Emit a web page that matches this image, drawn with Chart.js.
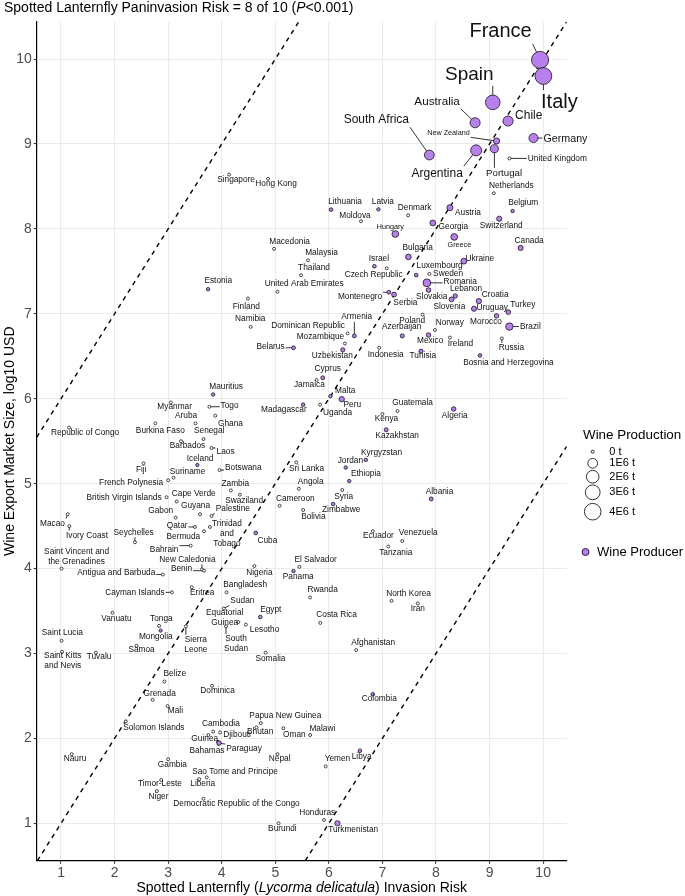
<!DOCTYPE html>
<html><head><meta charset="utf-8">
<script src="https://cdn.jsdelivr.net/npm/chart.js@4.4.1/dist/chart.umd.min.js"></script>
<style>html,body{margin:0;padding:0;background:#fff}#wrap{position:relative;width:685px;height:896px}canvas{display:block}</style>
</head><body><div id="wrap"><canvas id="c" width="685" height="896" style="width:685px;height:896px"></canvas></div>
<script>
// ---------------- DATA ----------------
const countries = ["France","Italy","Spain","Australia","Chile","New Zealand","Portugal","Argentina","South Africa","Germany",
"United Kingdom","Netherlands","Belgium","Denmark","Austria","Georgia","Switzerland","Hungary","Greece","Singapore",
"Hong Kong","Lithuania","Latvia","Moldova","Macedonia","Malaysia","Thailand","United Arab Emirates","Estonia","Finland",
"Israel","Czech Republic","Montenegro","Serbia","Namibia","Dominican Republic","Armenia","Mozambique","Uzbekistan","Belarus",
"Cyprus","Jamaica","Malta","Peru","Madagascar","Uganda","Mauritius","Togo","Ghana","Indonesia",
"Kenya","Kazakhstan","Canada","Bulgaria","Ukraine","Luxembourg","Sweden","Romania","Slovakia","Lebanon",
"Slovenia","Croatia","Uruguay","Turkey","Morocco","Poland","Norway","Azerbaijan","Mexico","Brazil",
"Ireland","Russia","Tunisia","Bosnia and Herzegovina","Guatemala","Algeria","Republic of Congo","Myanmar","Burkina Faso","Aruba",
"Senegal","Barbados","Laos","Iceland","Fiji","Suriname","French Polynesia","British Virgin Islands","Cape Verde","Gabon",
"Guyana","Palestine","Botswana","Zambia","Swaziland","Macao","Ivory Coast","Seychelles","Qatar","Bermuda",
"Trinidad\nand\nTobago","Bahrain","Saint Vincent and\nthe Grenadines","Antigua and Barbuda","New Caledonia","Benin","Cayman Islands","Eritrea","Vanuatu","Tonga",
"Mongolia","Sierra\nLeone","Saint Lucia","Samoa","Saint Kitts\nand Nevis","Tuvalu","Sri Lanka","Angola","Cameroon","Bolivia",
"Cuba","Kyrgyzstan","Jordan","Ethiopia","Syria","Zimbabwe","Ecuador","Venezuela","Tanzania","Albania",
"North Korea","Iran","El Salvador","Panama","Nigeria","Bangladesh","Sudan","Equatorial\nGuinea","Lesotho","South\nSudan",
"Egypt","Rwanda","Costa Rica","Afghanistan","Somalia","Belize","Grenada","Mali","Solomon Islands","Dominica",
"Nauru","Gambia","Timor-Leste","Niger","Liberia","Sao Tome and Principe","Democratic Republic of the Congo","Guinea","Bahamas","Cambodia",
"Djibouti","Paraguay","Papua New Guinea","Bhutan","Oman","Malawi","Nepal","Yemen","Libya","Colombia",
"Honduras","Turkmenistan","Burundi"];

const invasionRisk = [9.943,10.005,9.06,8.73,9.345,9.13,9.09,8.75,7.876,9.82,
9.37,9.08,9.43,7.48,8.26,7.94,9.18,7.24,8.34,4.137,
4.865,6.04,6.925,6.60,4.977,5.61,5.48,5.04,3.745,4.49,
6.85,7.08,7.12,7.217,4.54,6.35,6.476,6.30,6.26,5.34,
5.886,5.77,6.03,6.24,5.52,5.836,3.84,3.77,3.88,6.94,
7.0,7.07,9.58,7.485,8.52,7.63,7.877,7.83,7.86,8.36,
8.29,8.80,8.71,9.35,9.13,7.75,7.98,7.37,7.86,9.37,
8.26,9.23,7.72,8.82,7.28,8.33,1.15,3.05,2.76,3.51,
3.66,3.24,3.81,3.545,2.54,3.10,3.0,2.97,3.16,3.14,
3.595,3.81,3.96,4.17,4.34,1.125,1.155,2.38,3.50,3.67,
3.78,3.42,1.01,2.90,3.63,3.67,3.07,3.44,1.96,2.83,
2.86,3.33,1.01,2.41,1.02,1.65,5.39,5.44,5.08,5.52,
4.635,6.69,6.315,6.38,6.25,6.08,6.82,7.37,7.11,7.91,
7.17,7.66,5.45,5.34,4.61,4.09,4.04,4.31,4.45,4.08,
4.72,5.65,5.84,6.51,4.82,2.93,2.71,2.99,2.21,3.82,
1.20,3.00,2.87,2.79,3.58,3.72,3.66,3.75,3.93,3.84,
3.97,3.95,4.73,4.65,5.15,5.65,5.04,5.94,6.58,6.82,
5.91,6.16,5.06];

const exportSize = [9.99,9.80,9.49,9.25,9.27,9.035,8.945,8.925,8.87,9.07,
8.83,8.42,8.21,8.16,8.25,8.07,8.12,7.94,7.906,8.64,
8.59,8.227,8.23,8.09,7.765,7.63,7.455,7.26,7.29,7.18,
7.56,7.536,7.254,7.227,6.847,6.77,6.74,6.65,6.576,6.60,
6.247,6.22,6.03,5.995,5.93,5.93,6.05,5.906,5.80,6.60,
5.82,5.635,7.776,7.67,7.62,7.455,7.47,7.365,7.28,7.21,
7.17,7.15,7.06,7.02,6.976,6.99,6.81,6.74,6.75,6.85,
6.72,6.71,6.56,6.51,5.855,5.88,5.66,5.956,5.71,5.71,
5.525,5.50,5.42,5.22,5.24,5.07,5.04,4.84,4.79,4.60,
4.64,4.62,5.16,4.92,4.87,4.64,4.50,4.31,4.49,4.44,
4.49,4.27,4.0,3.93,3.99,3.975,3.72,3.78,3.48,3.325,
3.27,3.32,3.15,3.09,3.02,3.01,5.25,4.94,4.74,4.69,
4.42,5.28,5.19,5.03,4.925,4.76,4.44,4.325,4.26,4.82,
3.62,3.59,4.02,3.97,4.03,3.72,3.53,3.37,3.34,3.32,
3.43,3.66,3.36,3.04,3.01,2.67,2.455,2.38,2.20,2.62,
1.815,1.755,1.51,1.38,1.52,1.54,1.29,2.04,1.96,2.08,
2.07,1.945,2.18,2.13,2.12,2.04,1.815,1.67,1.855,2.52,
1.04,1.0,1.0];

// wine production, millions of tonnes (0 = not a wine producer)
const wineProduction = [4.3,4.1,2.9,1.1,1.1,0.22,0.55,1.4,1.0,0.8,
0,0,0.005,0,0.2,0.17,0.1,0.3,0.3,0,
0,0.01,0.005,0,0,0,0,0,0.005,0,
0.01,0,0.015,0.08,0,0,0.02,0,0.03,0.015,
0.02,0,0.005,0.12,0.01,0,0.005,0,0,0,
0,0.02,0.1,0.15,0.18,0.01,0,0.5,0.06,0.04,
0.07,0.12,0.1,0.06,0.05,0,0,0.03,0.05,0.42,
0,0,0.03,0.01,0,0.05,0,0,0,0,
0,0,0,0.002,0,0,0,0,0,0,
0,0,0,0,0,0,0,0,0,0,
0,0,0,0,0,0,0,0,0,0,
0.002,0,0,0,0,0,0,0,0,0,
0.01,0.005,0.005,0.005,0,0.01,0,0,0,0.02,
0,0,0,0.005,0,0,0,0,0,0,
0.01,0,0,0,0,0,0,0,0,0,
0,0,0,0,0,0,0,0,0,0,
0,0.05,0,0,0,0,0,0,0.01,0.01,
0,0.12,0];

const xTickValues = [1,2,3,4,5,6,7,8,9,10];
const yTickValues = [1,2,3,4,5,6,7,8,9,10];
const refLineOffsets = [5, 0, -5];          // dashed lines y = x + k
const legendSizeValues = [0,1,2,3,4];       // millions of tonnes
const legendSizeLabels = ["0 t","1E6 t","2E6 t","3E6 t","4E6 t"];

// ---------------- LABEL LAYOUT (pixel offsets of label centre from its point) ----------------
const labelOffset = {
"France":[-39.5,-28],"Italy":[16,26],"Spain":[-23.5,-28],"Australia":[-38,-21],"Chile":[20.7,-5.3],
"New Zealand":[-48,-8],"Portugal":[9.7,25],"Argentina":[-39,23],"South Africa":[-53,-35],"Germany":[32,0.7],
"United Kingdom":[48,0],"Netherlands":[17.5,-7.3],"Belgium":[10.6,-8],"Denmark":[6.5,-7.4],"Austria":[18,4.6],
"Georgia":[20.6,3.4],"Switzerland":[2,6.7],"Hungary":[-5,-7],"Greece":[5.2,8.4],"Singapore":[7,5],
"Hong Kong":[8,5],"Lithuania":[14,-8],"Latvia":[4.5,-8],"Moldova":[-6,-6],"Macedonia":[15.5,-7],
"Malaysia":[13.6,-7.7],"Thailand":[13,-7.4],"United Arab Emirates":[26.7,-8],"Estonia":[10.2,-8.3],"Finland":[-1.7,8.6],
"Israel":[4.5,-8],"Czech Republic":[-13,6.3],"Montenegro":[-28.8,4.3],"Serbia":[11.3,8.3],"Namibia":[-0.4,-8.6],
"Dominican Republic":[-39.5,-7.3],"Armenia":[2.4,-19],"Mozambique":[-24.5,-6.7],"Uzbekistan":[-10.5,5.7],"Belarus":[-23,-1],
"Cyprus":[5,-9],"Jamaica":[-7.2,4.6],"Malta":[14.7,-5],"Peru":[10.6,6],"Madagascar":[-19.3,5.4],
"Uganda":[17.5,8.4],"Mauritius":[13,-7.6],"Togo":[20.2,-0.6],"Ghana":[15.2,8.3],"Indonesia":[6.5,7.4],
"Kenya":[4,5],"Kazakhstan":[11,5.7],"Canada":[8.5,-7.3],"Bulgaria":[9.2,-9],"Ukraine":[16,-2.4],
"Luxembourg":[23.5,-9],"Sweden":[18.7,0],"Romania":[33.3,-1],"Slovakia":[3.2,6.4],"Lebanon":[10.8,-7.4],
"Slovenia":[-2.2,7.7],"Croatia":[16.3,-6.4],"Uruguay":[18.2,-1.3],"Turkey":[14.5,-7.3],"Morocco":[-10.5,6],
"Poland":[-10.4,6.3],"Norway":[14.8,-7.7],"Azerbaijan":[-0.6,-8.7],"Mexico":[1.7,6],"Brazil":[21,0],
"Ireland":[10.5,6.4],"Russia":[9.6,9.3],"Tunisia":[1.8,5],"Bosnia and Herzegovina":[28.5,7.6],"Guatemala":[15.2,-8.4],
"Algeria":[1,6.7],"Republic of Congo":[16,5.3],"Myanmar":[3.8,4.3],"Burkina Faso":[5,7.7],"Aruba":[-9.4,-8],
"Senegal":[5.7,-8],"Barbados":[6.5,5],"Laos":[14,4],"Iceland":[2.7,-6.7],"Fiji":[-2.3,6.7],
"Suriname":[14,-6],"French Polynesia":[-37,2],"British Virgin Islands":[-42.5,0],"Cape Verde":[17,-7.3],"Gabon":[-15,-7.3],
"Guyana":[-4.5,-8.3],"Palestine":[21.3,-7.7],"Botswana":[23.7,-2.7],"Zambia":[4.5,-7],"Swaziland":[4.2,5.7],
"Macao":[-15.2,9.3],"Ivory Coast":[17.7,9.3],"Seychelles":[-1.3,-10],"Qatar":[-17.8,-1.3],"Bermuda":[-20.7,5],
"Trinidad\nand\nTobago":[17,6.4],"Bahrain":[-26.5,4],"Saint Vincent and\nthe Grenadines":[15,-11.6],"Antigua and Barbuda":[-46.5,-1.7],"New Caledonia":[-14.5,-10],
"Benin":[-22.5,-2],"Cayman Islands":[-37,0],"Eritrea":[10.5,5],"Vanuatu":[4,6],"Tonga":[2.3,-6.7],
"Mongolia":[-4.9,6],"Sierra\nLeone":[10,18.4],"Saint Lucia":[0.8,-7.7],"Samoa":[5,4.3],"Saint Kitts\nand Nevis":[0.7,8.7],
"Tuvalu":[3.2,4.4],"Sri Lanka":[10.3,6],"Angola":[11.8,-7.3],"Cameroon":[15.7,-7.4],"Bolivia":[10.2,6.7],
"Cuba":[11.6,7.7],"Kyrgyzstan":[15.7,-6.7],"Jordan":[4.6,-7.3],"Ethiopia":[16.7,-7.7],"Syria":[1.4,7],
"Zimbabwe":[8,6],"Ecuador":[5.6,4.3],"Venezuela":[16,-8],"Tanzania":[7.5,6],"Albania":[8.3,-7.3],
"North Korea":[17,-6.7],"Iran":[0,5.7],"El Salvador":[16.2,-7],"Panama":[4.7,6],"Nigeria":[5,6.6],
"Bangladesh":[18.6,-7.3],"Sudan":[18.5,-8],"Equatorial\nGuinea":[-13.6,-4.4],"Lesotho":[18.7,5.3],"South\nSudan":[10,17.7],
"Egypt":[10.5,-7.7],"Rwanda":[12.5,-7.3],"Costa Rica":[16.3,-8],"Afghanistan":[17,-7.4],"Somalia":[4.8,5.6],
"Belize":[10.4,-8.3],"Grenada":[7,-6.4],"Mali":[7.8,4.4],"Solomon Islands":[28,6],"Dominica":[5.5,5],
"Nauru":[3.3,4.3],"Gambia":[4.2,5],"Timor-Leste":[-1.3,3.6],"Niger":[1.6,6],"Liberia":[3.5,4.3],
"Sao Tome and Principe":[28.3,-6],"Democratic Republic of the Congo":[33,4.7],"Guinea":[-3.6,3.6],"Bahamas":[-11,9],"Cambodia":[7.7,-8],
"Djibouti":[17,2.4],"Paraguay":[25,6],"Papua New Guinea":[24.5,-7],"Bhutan":[3.6,4.4],"Oman":[11,6],
"Malawi":[12.2,-6.7],"Nepal":[2.2,4.3],"Yemen":[11.8,-7.3],"Libya":[1.7,5.6],"Colombia":[6.5,4.7],
"Honduras":[-6.8,-7.3],"Turkmenistan":[15.7,6],"Burundi":[3.9,5]
};
const labelSize = {"France":20,"Italy":20,"Spain":19,"Australia":11.7,"Chile":12,"South Africa":12,"Argentina":12,
"Germany":10.7,"Portugal":9.7,"New Zealand":7.2,"Greece":7.2,"Hungary":7.2};
const DEFAULT_LABEL_SIZE = 8.3;

// ---------------- STYLE ----------------
const PURPLE = '#B87FEF';
const FONT = '"Liberation Sans", Arial, Helvetica, sans-serif';
const X_MIN = 0.546, X_MAX = 10.44, Y_MIN = 0.56, Y_MAX = 10.44;
function radiusFor(v){ return 1.5 + 3.4*Math.sqrt(v); }

const bubbleData = countries.map((c,i)=>({x:invasionRisk[i], y:exportSize[i], r:radiusFor(wineProduction[i])}));
const bubbleFill = wineProduction.map(v => v>0 ? PURPLE : '#ffffff');

const refDatasets = refLineOffsets.map(k=>{
  const x0 = Math.max(X_MIN, Y_MIN - k), x1 = Math.min(X_MAX, Y_MAX - k);
  return {type:'line', data:[{x:x0,y:x0+k},{x:x1,y:x1+k}], borderColor:'#000', borderWidth:1.4,
          borderDash:[4.5,4.5], pointRadius:0, fill:false, order:5};
});

function labelInfo(chart){
  const xs = chart.scales.x, ys = chart.scales.y, ctx = chart.ctx;
  return countries.map((name,i)=>{
    const px = xs.getPixelForValue(invasionRisk[i]), py = ys.getPixelForValue(exportSize[i]);
    const off = labelOffset[name] || [6,5];
    const size = labelSize[name] || DEFAULT_LABEL_SIZE;
    const lines = name.split('\n');
    ctx.font = size + 'px ' + FONT;
    const w = Math.max(...lines.map(l=>ctx.measureText(l).width));
    const lh = size*1.2;
    const h = lines.length*lh;
    return {px,py,r:radiusFor(wineProduction[i]),lx:px+off[0],ly:py+off[1],lines,size,w,h,lh};
  });
}

function drawParts(ctx, parts, x, y, size, align){
  let total = 0;
  parts.forEach(p=>{ ctx.font = (p[1]?'italic ':'') + size + 'px ' + FONT; p.w = ctx.measureText(p[0]).width; total += p.w; });
  let cx = align==='center' ? x - total/2 : x;
  ctx.textAlign='left'; ctx.textBaseline='middle';
  parts.forEach(p=>{ ctx.font = (p[1]?'italic ':'') + size + 'px ' + FONT; ctx.fillText(p[0], cx, y); cx += p.w; });
}

const labelPlugin = {
  id:'countryLabels',
  beforeDatasetsDraw(chart){
    const ctx = chart.ctx;
    const info = labelInfo(chart);
    ctx.save();
    ctx.strokeStyle = '#000'; ctx.lineWidth = 0.8;
    info.forEach(L=>{
      const bx0 = L.lx - L.w/2 - 1, bx1 = L.lx + L.w/2 + 1, by0 = L.ly - L.h/2, by1 = L.ly + L.h/2;
      const nx = Math.min(Math.max(L.px,bx0),bx1), ny = Math.min(Math.max(L.py,by0),by1);
      const d = Math.hypot(nx-L.px, ny-L.py);
      if (d > L.r + 2.5){
        ctx.beginPath(); ctx.moveTo(L.px,L.py); ctx.lineTo(nx,ny); ctx.stroke();
      }
    });
    ctx.restore();
  },
  afterDatasetsDraw(chart){
    const ctx = chart.ctx;
    const info = labelInfo(chart);
    ctx.save();
    ctx.fillStyle = '#111'; ctx.textAlign='center'; ctx.textBaseline='middle';
    info.forEach(L=>{
      ctx.font = L.size + 'px ' + FONT;
      const y0 = L.ly - L.h/2 + L.lh/2;
      L.lines.forEach((t,k)=> ctx.fillText(t, L.lx, y0 + k*L.lh));
    });
    ctx.restore();
  },
  afterDraw(chart){
    const ctx = chart.ctx, ca = chart.chartArea;
    ctx.save();
    ctx.fillStyle = '#000';
    // title
    drawParts(ctx, [['Spotted Lanternfly Paninvasion Risk = 8 of 10 (',false],['P',true],['<0.001)',false]], 4, 8, 14, 'left');
    // x axis title
    drawParts(ctx, [['Spotted Lanternfly (',false],['Lycorma delicatula',true],[') Invasion Risk',false]], (ca.left+ca.right)/2, 888, 14, 'center');
    // size legend
    ctx.textAlign='left'; ctx.textBaseline='middle';
    ctx.font = '13.4px ' + FONT;
    ctx.fillText('Wine Production', 583, 435);
    const ly = [451.7, 463.3, 476.7, 492.3, 511.7];
    legendSizeValues.forEach((v,i)=>{
      ctx.beginPath(); ctx.arc(592.7, ly[i], radiusFor(v), 0, Math.PI*2);
      ctx.fillStyle='#fff'; ctx.fill(); ctx.strokeStyle='#000'; ctx.lineWidth=0.8; ctx.stroke();
      ctx.fillStyle='#000'; ctx.font = '11px ' + FONT;
      ctx.fillText(legendSizeLabels[i], 609.3, ly[i]);
    });
    // producer legend
    ctx.beginPath(); ctx.arc(585.5, 552, 3.5, 0, Math.PI*2);
    ctx.fillStyle = PURPLE; ctx.fill(); ctx.strokeStyle='#000'; ctx.lineWidth=0.8; ctx.stroke();
    ctx.fillStyle='#000'; ctx.font = '13px ' + FONT;
    ctx.fillText('Wine Producer', 597, 552);
    ctx.restore();
  }
};

new Chart(document.getElementById('c'), {
  type:'bubble',
  data:{ datasets:[
    {data:bubbleData, backgroundColor:bubbleFill, borderColor:'#000', borderWidth:0.7, order:1},
    ...refDatasets
  ]},
  options:{
    responsive:false, animation:false, events:[],
    layout:{padding:{left:0, top:21.7, right:118.3, bottom:0}},
    plugins:{legend:{display:false}, tooltip:{enabled:false}},
    scales:{
      x:{type:'linear', min:X_MIN, max:X_MAX,
         afterBuildTicks:s=>{ s.ticks = xTickValues.map(v=>({value:v})); },
         afterFit:s=>{ s.height = 35.3; },
         grid:{color:'#ebebeb', lineWidth:1.1, tickColor:'#333', tickLength:3},
         border:{display:true, color:'#000', width:1.2},
         ticks:{font:{size:14, family:FONT}, color:'#4d4d4d', padding:1, maxRotation:0, autoSkip:false}},
      y:{type:'linear', min:Y_MIN, max:Y_MAX,
         afterBuildTicks:s=>{ s.ticks = yTickValues.map(v=>({value:v})); },
         afterFit:s=>{ s.width = 36.7; },
         grid:{color:'#ebebeb', lineWidth:1.1, tickColor:'#333', tickLength:3},
         border:{display:true, color:'#000', width:1.2},
         ticks:{font:{size:14, family:FONT}, color:'#4d4d4d', padding:2, autoSkip:false},
         title:{display:true, text:'Wine Export Market Size, log10 USD', color:'#000', font:{size:14, family:FONT}, padding:{top:2,bottom:0}}}
    }
  },
  plugins:[labelPlugin]
});
</script>
</body></html>
